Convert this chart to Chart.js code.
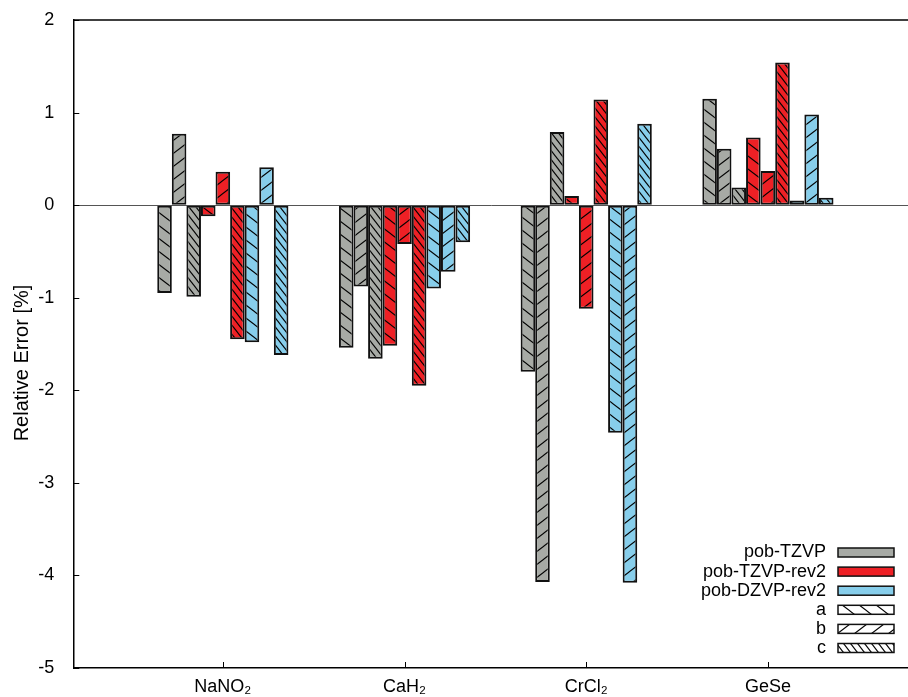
<!DOCTYPE html>
<html>
<head>
<meta charset="utf-8">
<script src="https://cdn.jsdelivr.net/npm/chart.js@4.4.1/dist/chart.umd.min.js"></script>
<style>
  html, body { margin: 0; padding: 0; background: #fff; }
  #wrap { width: 908px; height: 697px; }
</style>
</head>
<body>
<div id="wrap"><canvas id="errChart" width="908" height="697"></canvas></div>
<script>
// compounds along x, basis sets and a/b/c variants per compound
const compounds = ['NaNO\u2082', 'CaH\u2082', 'CrCl\u2082', 'GeSe'];
const basisSets = ['pob-TZVP', 'pob-TZVP-rev2', 'pob-DZVP-rev2'];
const variants = ['a', 'b', 'c'];
const yTitle = 'Relative Error [%]';

// relative error [%] per compound
const tzvpA = [-0.95, -1.54, -1.80, 1.15];
const tzvpB = [0.77, -0.88, -4.07, 0.61];
const tzvpC = [-0.99, -1.66, 0.79, 0.19];
const tzvpRev2A = [-0.12, -1.52, 0.10, 0.73];
const tzvpRev2B = [0.36, -0.42, -1.12, 0.37];
const tzvpRev2C = [-1.45, -1.95, 1.14, 1.54];
const dzvpRev2A = [-1.48, -0.90, -2.46, 0.05];
const dzvpRev2B = [0.41, -0.72, -4.08, 0.98];
const dzvpRev2C = [-1.62, -0.40, 0.88, 0.08];

const seriesValues = [
    [tzvpA, tzvpB, tzvpC],
    [tzvpRev2A, tzvpRev2B, tzvpRev2C],
    [dzvpRev2A, dzvpRev2B, dzvpRev2C]
];

const FONT = '"Liberation Sans", Arial, Helvetica, sans-serif';
const basisColors = ['#a7aaa5', '#ee2025', '#87ceeb'];

// hatch tiles: one diagonal per tile, repeated
const hatches = {
    a: { w: 17, h: 13, dir: 'back' },
    b: { w: 17, h: 13, dir: 'fwd' },
    c: { w: 7, h: 9, dir: 'back' }
};

function makePattern(fill, hatch) {
    let c = document.createElement('canvas');
    c.width = hatch.w;
    c.height = hatch.h;
    let g = c.getContext('2d');
    g.fillStyle = fill;
    g.fillRect(0, 0, hatch.w, hatch.h);
    g.strokeStyle = '#000';
    g.lineWidth = 1.1;
    [-hatch.w, 0, hatch.w].forEach(function (dx) {
        g.beginPath();
        if (hatch.dir === 'back') {
            g.moveTo(dx - hatch.w, -hatch.h);
            g.lineTo(dx + 2 * hatch.w, 2 * hatch.h);
        } else {
            g.moveTo(dx - hatch.w, 2 * hatch.h);
            g.lineTo(dx + 2 * hatch.w, -hatch.h);
        }
        g.stroke();
    });
    return g.createPattern(c, 'repeat');
}

let datasets = [];
basisSets.forEach(function (name, b) {
    variants.forEach(function (v, k) {
        datasets.push({
            label: name + ' ' + v,
            data: seriesValues[b][k].map(function (val, i) { return { x: i, y: val }; }),
            backgroundColor: makePattern(basisColors[b], hatches[v]),
            borderColor: '#111',
            borderWidth: 2,
            borderSkipped: false,
            categoryPercentage: 0.722,
            barPercentage: 1.0
        });
    });
});

// key entries: colours first, then hatch styles
let keyEntries = basisSets.map(function (name, b) {
    return { label: name, fill: basisColors[b] };
}).concat(variants.map(function (v) {
    return { label: v, fill: makePattern('#ffffff', hatches[v]) };
}));

const keyPlugin = {
    id: 'key',
    afterDraw(chart, args, opts) {
        const ctx = chart.ctx;
        ctx.save();
        ctx.font = '18px ' + FONT;
        ctx.textAlign = 'right';
        ctx.textBaseline = 'middle';
        ctx.lineWidth = 1.5;
        ctx.strokeStyle = '#111';
        keyEntries.forEach(function (e, i) {
            let y = opts.top + i * opts.step;
            ctx.fillStyle = '#000';
            ctx.fillText(e.label, opts.textRight, y);
            ctx.fillStyle = e.fill;
            ctx.fillRect(opts.boxLeft, y - opts.boxH / 2, opts.boxW, opts.boxH);
            ctx.strokeRect(opts.boxLeft, y - opts.boxH / 2, opts.boxW, opts.boxH);
        });
        ctx.restore();
    }
};

// top border, inward tick marks and the y axis title
const framePlugin = {
    id: 'frame',
    afterDraw(chart, args, opts) {
        const ctx = chart.ctx;
        const area = chart.chartArea;
        const xs = chart.scales.x;
        const ys = chart.scales.y;
        ctx.save();
        ctx.strokeStyle = '#000';
        ctx.lineWidth = 1.5;
        ctx.beginPath();
        ctx.moveTo(area.left, area.top);
        ctx.lineTo(area.right, area.top);
        ctx.stroke();
        ctx.lineWidth = 1;
        ctx.beginPath();
        ys.ticks.forEach(function (t, i) {
            let py = Math.round(ys.getPixelForTick(i)) + 0.5;
            ctx.moveTo(area.left, py);
            ctx.lineTo(area.left + opts.len, py);
        });
        xs.ticks.forEach(function (t, i) {
            let px = Math.round(xs.getPixelForTick(i)) + 0.5;
            ctx.moveTo(px, area.bottom);
            ctx.lineTo(px, area.bottom - opts.len);
        });
        ctx.stroke();

        ctx.translate(opts.titleX, opts.titleY);
        ctx.rotate(-Math.PI / 2);
        ctx.font = opts.titleSize + 'px ' + FONT;
        ctx.fillStyle = '#000';
        ctx.textAlign = 'center';
        ctx.textBaseline = 'middle';
        ctx.fillText(yTitle, 0, 0);
        ctx.restore();
    }
};

let ctx = document.getElementById('errChart').getContext('2d');
window.errChart = new Chart(ctx, {
    type: 'bar',
    data: { datasets: datasets },
    options: {
        responsive: false,
        animation: false,
        devicePixelRatio: 1,
        layout: { padding: { top: 20, right: 0, bottom: 0, left: 9 } },
        plugins: {
            legend: { display: false },
            tooltip: { enabled: false },
            key: { top: 552.5, step: 19.1, textRight: 826, boxLeft: 838, boxW: 56, boxH: 9 },
            frame: { len: 6, titleX: 22.5, titleY: 363, titleSize: 20 }
        },
        scales: {
            x: {
                type: 'linear',
                position: 'bottom',
                offset: false,
                min: -0.823,
                max: 3.771,
                grid: { display: false, drawTicks: false },
                border: { display: true, color: '#000', width: 1.5 },
                ticks: {
                    stepSize: 1,
                    includeBounds: false,
                    autoSkip: false,
                    maxRotation: 0,
                    padding: 8,
                    color: '#000',
                    font: { family: FONT, size: 18 },
                    callback: function (v) {
                        return Number.isInteger(v) && compounds[v] !== undefined ? compounds[v] : '';
                    }
                },
                afterFit: function (scale) { scale.height = 29; }
            },
            y: {
                min: -5,
                max: 2,
                grid: {
                    drawTicks: false,
                    lineWidth: 1,
                    color: function (c) { return c.tick && c.tick.value === 0 ? '#555' : 'rgba(0,0,0,0)'; }
                },
                border: { display: true, color: '#000', width: 1.5 },
                ticks: {
                    stepSize: 1,
                    padding: 19,
                    color: '#000',
                    font: { family: FONT, size: 18 }
                },
                afterFit: function (scale) {
                    scale.width = 64.3;
                    scale.paddingTop = 0;
                    scale.paddingBottom = 0;
                }
            }
        }
    },
    plugins: [keyPlugin, framePlugin]
});
</script>
</body>
</html>
